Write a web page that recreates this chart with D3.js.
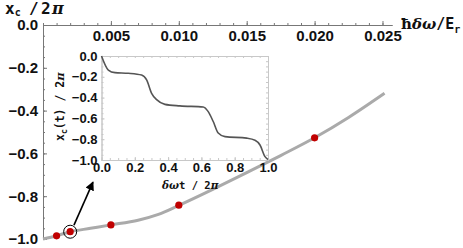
<!DOCTYPE html>
<html>
<head>
<meta charset="utf-8">
<script src="https://cdn.jsdelivr.net/npm/d3@7"></script>
<style>
body { margin: 0; background: #fff; }
svg { display: block; }
.tick text { font-family: "Liberation Sans", Arial, sans-serif; font-weight: bold; fill: #111; }
.lbl { font-family: "DejaVu Sans Mono", "Liberation Mono", monospace; font-weight: bold; fill: #111; }
</style>
</head>
<body>
<svg width="463" height="248"></svg>
<script>
// main curve x_c / 2pi vs hbar dw / E_r
const curveX = [0, 0.001, 0.002, 0.0035, 0.005, 0.007, 0.0085, 0.010, 0.0125, 0.015, 0.0175, 0.020, 0.0225, 0.02515];
const curveY = [-1.0, -0.985, -0.966, -0.950, -0.934, -0.912, -0.885, -0.843, -0.768, -0.690, -0.610, -0.527, -0.432, -0.319];

// red sample points
const pointX = [0.001, 0.002, 0.005, 0.010, 0.020];
const pointY = [-0.985, -0.966, -0.934, -0.842, -0.527];

// inset: x_c(t) / 2pi vs dw t / 2pi
const insetT = [0, 0.041, 0.081, 0.161, 0.241, 0.271, 0.301, 0.331, 0.381, 0.471, 0.611, 0.641, 0.671, 0.701, 0.742, 0.872, 0.922, 0.952, 0.982, 1.0];
const insetX = [0, -0.135, -0.16, -0.166, -0.183, -0.23, -0.36, -0.42, -0.465, -0.48, -0.49, -0.535, -0.63, -0.74, -0.775, -0.79, -0.81, -0.856, -0.968, -0.995];

const mainXTicks = [0.005, 0.010, 0.015, 0.020, 0.025];
const mainYTicks = [0, -0.2, -0.4, -0.6, -0.8, -1.0];
const insetTicks = [0, 0.2, 0.4, 0.6, 0.8, 1.0];
const insetYTicks = [0, -0.2, -0.4, -0.6, -0.8, -1.0];

const svg = d3.select("svg");

const x = d3.scaleLinear().domain([0, 0.0257]).range([43, 392]);
const y = d3.scaleLinear().domain([-1, 0]).range([239, 25]);

// main axes: x along y=0 at top, y along x=0
const minorX = d3.range(0, 0.0256, 0.001);
const minorY = d3.range(-1, 0.001, 0.05);

function styleAxis(g) {
    g.select(".domain").attr("stroke", "#777");
    g.selectAll(".tick line").attr("stroke", "#777");
}

svg.append("g")
    .attr("transform", `translate(0,${y(0)})`)
    .call(d3.axisBottom(x).tickValues(minorX).tickSize(-2).tickSizeOuter(0).tickFormat(""))
    .call(styleAxis);
svg.append("g")
    .attr("transform", `translate(0,${y(0)})`)
    .call(d3.axisBottom(x).tickValues(mainXTicks).tickSize(-4).tickSizeOuter(0)
        .tickPadding(5).tickFormat(d3.format(".3f")))
    .call(styleAxis)
    .call((g) => g.selectAll(".tick text").style("font-size", "15px"));

svg.append("g")
    .attr("transform", `translate(${x(0)},0)`)
    .call(d3.axisLeft(y).tickValues(minorY).tickSize(-2).tickSizeOuter(0).tickFormat(""))
    .call(styleAxis);
svg.append("g")
    .attr("transform", `translate(${x(0)},0)`)
    .call(d3.axisLeft(y).tickValues(mainYTicks).tickSize(-4).tickSizeOuter(0)
        .tickPadding(5).tickFormat(d3.format(".1f")))
    .call(styleAxis)
    .call((g) => g.selectAll(".tick text").style("font-size", "15px"));

// axis labels
const yl = svg.append("text").attr("class", "lbl").attr("y", 14).style("font-size", "16px");
yl.append("tspan").attr("x", 5).text("x");
yl.append("tspan").attr("dy", 2).style("font-size", "10px").text("c");
yl.append("tspan").attr("x", 29).attr("dy", -2).text("/");
yl.append("tspan").attr("x", 41).text("2");
yl.append("tspan").attr("x", 52).style("font-family", "DejaVu Serif").style("font-style", "italic").text("π");

const xl = svg.append("text").attr("class", "lbl").attr("y", 29).style("font-size", "15px");
xl.append("tspan").attr("x", 401).style("font-family", "DejaVu Serif").text("ħ");
xl.append("tspan").style("font-family", "DejaVu Serif").style("font-style", "italic").text("δω");
xl.append("tspan").text("/E");
xl.append("tspan").attr("dy", 4).style("font-size", "10px").text("r");

// main curve
const line = d3.line()
    .x((d, i) => x(curveX[i]))
    .y((d) => y(d))
    .curve(d3.curveCatmullRom);
svg.append("path")
    .datum(curveY)
    .attr("fill", "none")
    .attr("stroke", "#aaa")
    .attr("stroke-width", 3)
    .attr("d", line);

// inset
const ix = d3.scaleLinear().domain([0, 1]).range([101.5, 268]);
const iy = d3.scaleLinear().domain([-1, 0]).range([160, 56]);
const minorI = d3.range(0, 1.001, 0.05);
const minorIY = d3.range(-1, 0.001, 0.05);

svg.append("rect")
    .attr("x", ix(0)).attr("y", iy(0))
    .attr("width", ix(1) - ix(0)).attr("height", iy(-1) - iy(0))
    .attr("fill", "#fff");

function styleFrame(g) {
    g.select(".domain").attr("stroke", "#c8c8c8");
    g.selectAll(".tick line").attr("stroke", "#c8c8c8");
}

svg.append("g").attr("transform", `translate(0,${iy(0)})`)
    .call(d3.axisTop(ix).tickValues(minorI).tickSize(-2).tickSizeOuter(0).tickFormat(""))
    .call(styleFrame);
svg.append("g").attr("transform", `translate(${ix(1)},0)`)
    .call(d3.axisRight(iy).tickValues(minorIY).tickSize(-2).tickSizeOuter(0).tickFormat(""))
    .call(styleFrame);
svg.append("g").attr("transform", `translate(0,${iy(-1)})`)
    .call(d3.axisBottom(ix).tickValues(minorI).tickSize(-2).tickSizeOuter(0).tickFormat(""))
    .call(styleFrame);
svg.append("g").attr("transform", `translate(${ix(0)},0)`)
    .call(d3.axisLeft(iy).tickValues(minorIY).tickSize(-2).tickSizeOuter(0).tickFormat(""))
    .call(styleFrame);

svg.append("g").attr("transform", `translate(0,${iy(-1)})`)
    .call(d3.axisBottom(ix).tickValues(insetTicks).tickSize(-3).tickSizeOuter(0)
        .tickPadding(3).tickFormat(d3.format(".1f")))
    .call(styleFrame)
    .call((g) => g.selectAll(".tick text").style("font-size", "13px"));
svg.append("g").attr("transform", `translate(${ix(0)},0)`)
    .call(d3.axisLeft(iy).tickValues(insetYTicks).tickSize(-3).tickSizeOuter(0)
        .tickPadding(4).tickFormat(d3.format(".1f")))
    .call(styleFrame)
    .call((g) => g.selectAll(".tick text").style("font-size", "13px"));

const iline = d3.line()
    .x((d, i) => ix(insetT[i]))
    .y((d) => iy(d))
    .curve(d3.curveMonotoneX);
svg.append("path")
    .datum(insetX)
    .attr("fill", "none")
    .attr("stroke", "#555")
    .attr("stroke-width", 1.6)
    .attr("d", iline);

// inset labels
const il = svg.append("text").attr("class", "lbl")
    .attr("transform", "translate(64,141) rotate(-90)")
    .style("font-size", "11.5px");
il.append("tspan").text("x");
il.append("tspan").attr("dy", 3).style("font-size", "8px").text("c");
il.append("tspan").attr("dy", -3).text("(t) / 2");
il.append("tspan").style("font-family", "DejaVu Serif").style("font-style", "italic").text("π");

const tl = svg.append("text").attr("class", "lbl")
    .attr("x", 162).attr("y", 189)
    .style("font-size", "10.5px");
tl.append("tspan").style("font-family", "DejaVu Serif").style("font-style", "italic").text("δω");
tl.append("tspan").text("t / 2");
tl.append("tspan").style("font-family", "DejaVu Serif").style("font-style", "italic").text("π");

// arrow from the circled point to the inset
svg.append("defs").append("marker")
    .attr("id", "head")
    .attr("viewBox", "0 0 10 10")
    .attr("refX", 9).attr("refY", 5)
    .attr("markerWidth", 9).attr("markerHeight", 9)
    .attr("markerUnits", "userSpaceOnUse")
    .attr("orient", "auto")
    .append("path")
    .attr("d", "M0,0L10,5L0,10z")
    .attr("fill", "#000");

svg.append("line")
    .attr("x1", x(0.00228)).attr("y1", y(-0.935))
    .attr("x2", x(0.00368)).attr("y2", y(-0.734))
    .attr("stroke", "#000")
    .attr("stroke-width", 1.6)
    .attr("marker-end", "url(#head)");

// red points, the second one circled
svg.append("circle")
    .attr("cx", x(pointX[1])).attr("cy", y(pointY[1]))
    .attr("r", 6.5)
    .attr("fill", "none")
    .attr("stroke", "#000")
    .attr("stroke-width", 1);

svg.selectAll(".pt")
    .data(pointY)
    .enter()
    .append("circle")
    .attr("class", "pt")
    .attr("cx", (d, i) => x(pointX[i]))
    .attr("cy", (d) => y(d))
    .attr("r", 3.6)
    .attr("fill", "#c00000");
</script>
</body>
</html>
